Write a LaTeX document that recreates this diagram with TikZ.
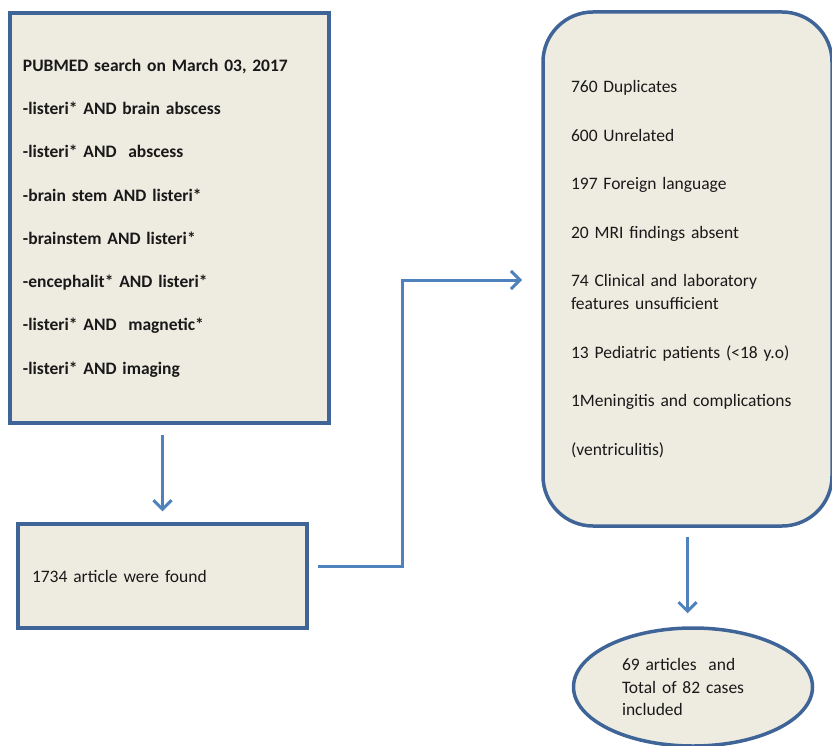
\documentclass[tikz,border=0pt]{standalone}
\usepackage{fontspec}
\setmainfont{Carlito}
\usetikzlibrary{shapes.geometric,arrows.meta}
\definecolor{boxfill}{HTML}{EEECE1}
\definecolor{boxline}{HTML}{3F6598}
\definecolor{arrowblue}{HTML}{4F81BD}

\begin{document}
\begin{tikzpicture}[x=1pt, y=-1pt,
        box/.style={rectangle, draw=boxline, fill=boxfill, line width=3.5pt, align=left, text=black!90, inner ysep=0pt},
        exclbox/.style={box, rounded corners=50pt},
        endnode/.style={ellipse, draw=boxline, fill=boxfill, line width=3.5pt, align=left, text=black!90, inner sep=0pt, minimum width=239pt, minimum height=118pt, text width=142pt},
        arrow/.style={-{Straight Barb[length=9pt,width=18pt,line width=3pt]}, line width=3pt, arrowblue}
    ]
    \useasboundingbox (0,0) rectangle (832,746);

    \node[box, text width=293pt, inner xsep=13pt, minimum height=410pt, font=\bfseries\fontsize{17.5}{43.3}\selectfont] (search) at (169.5,218) {PUBMED search on March 03, 2017\\
        -listeri* AND brain abscess\\
        -listeri* AND\ \ abscess\\
        -brain stem AND listeri*\\
        -brainstem AND listeri*\\
        -encephalit* AND listeri*\\
        -listeri* AND\ \ magnetic*\\
        -listeri* AND imaging};
    \node[box, text width=261pt, inner xsep=14pt, minimum height=104pt, font=\fontsize{17.5}{22}\selectfont] (found) at (162.5,576) {1734 article were found};
    \node[exclbox, text width=233pt, inner xsep=28pt, minimum height=514pt, font=\fontsize{17.5}{23}\selectfont] (excl) at (687.5,269) {760 Duplicates\\[25.5pt]
        600 Unrelated\\[25.5pt]
        197 Foreign language\\[25.5pt]
        20 MRI findings absent\\[25.5pt]
        74 Clinical and laboratory\\
        features unsufficient\\[25.5pt]
        13 Pediatric patients (<18 y.o)\\[25.5pt]
        1Meningitis and complications\\[25.5pt]
        (ventriculitis)};
    \node[endnode, font=\fontsize{17.5}{22.5}\selectfont] (incl) at (693,687) {69 articles\ \ and\\
        Total of 82 cases\\
        included};

    \coordinate (bend) at (402,280);
    \coordinate (tip) at (522,280);

    \draw[arrow, shorten <=10pt, shorten >=11pt] (found.north |- search.south) -- (found.north);
    \draw[arrow] ([xshift=9pt,yshift=10pt]found.east) -| (bend) -- (tip);
    \draw[arrow, shorten <=9pt, shorten >=13pt] (excl.south) -- (excl.south |- incl.north);

\end{tikzpicture}
\end{document}
